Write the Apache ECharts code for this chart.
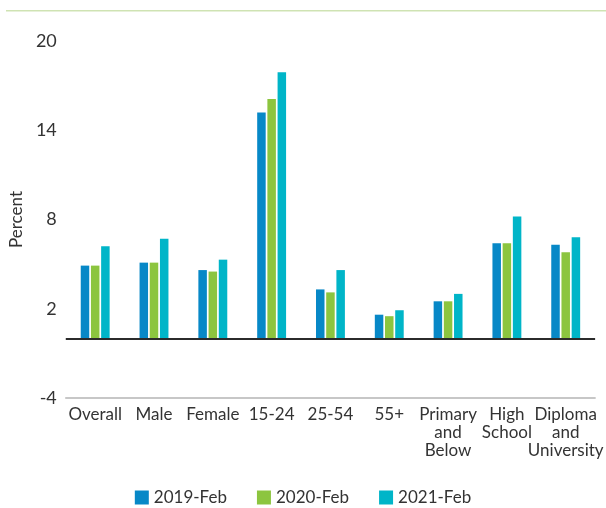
<!DOCTYPE html>
<html>
<head>
<meta charset="utf-8">
<script src="https://cdn.jsdelivr.net/npm/echarts@6/dist/echarts.min.js"></script>
<style>
  html, body { margin: 0; padding: 0; background: #fff; }
  #chart { width: 606px; height: 508px; }
</style>
</head>
<body>
<div id="chart"></div>
<script>
// categories and values
const categories = ['Overall', 'Male', 'Female', '15-24', '25-54', '55+',
  'Primary\nand\nBelow', 'High\nSchool', 'Diploma\nand\nUniversity'];
const seriesNames = ['2019-Feb', '2020-Feb', '2021-Feb'];
const feb2019 = [4.9, 5.1, 4.6, 15.2, 3.3, 1.6, 2.5, 6.4, 6.3];
const feb2020 = [4.9, 5.1, 4.5, 16.1, 3.1, 1.5, 2.5, 6.4, 5.8];
const feb2021 = [6.2, 6.7, 5.3, 17.9, 4.6, 1.9, 3.0, 8.2, 6.8];
const colors = ['#0788c7', '#8cc53f', '#00b5c8'];

const font = 'Lato, "Noto Sans", sans-serif';
const chart = echarts.init(document.getElementById('chart'));

const makeBar = (name, data, i) => ({
  name: name,
  type: 'bar',
  data: data,
  barWidth: 8.5,
  barGap: '20%',
  itemStyle: { color: colors[i] },
  // zero line
  markLine: i === 0 ? {
    silent: true,
    symbol: 'none',
    label: { show: false },
    lineStyle: { color: '#2b2b2b', width: 2, type: 'solid' },
    data: [{ yAxis: 0 }]
  } : undefined
});

chart.setOption({
  animation: false,
  textStyle: { fontFamily: font },
  graphic: [{
    type: 'rect',
    left: 6, top: 10,
    shape: { width: 600, height: 1.5 },
    style: { fill: '#cfe3b3' }
  }],
  grid: { left: 60, right: 6, top: 41, bottom: 110 },
  legend: {
    top: 489,
    left: 'center',
    padding: 0,
    icon: 'rect',
    itemWidth: 14,
    itemHeight: 14,
    itemGap: 30,
    textStyle: { color: '#333', fontSize: 17, fontFamily: font }
  },
  xAxis: {
    type: 'category',
    data: categories,
    axisLine: { onZero: false, lineStyle: { color: '#b5b5b5', width: 1.5 } },
    axisTick: { show: false },
    axisLabel: {
      interval: 0,
      color: '#333',
      fontSize: 17,
      lineHeight: 18,
      margin: 8,
      fontFamily: font
    }
  },
  yAxis: {
    type: 'value',
    min: -4,
    max: 20,
    interval: 6,
    name: 'Percent',
    nameLocation: 'middle',
    nameGap: 36,
    nameTextStyle: { color: '#333', fontSize: 17, fontFamily: font },
    axisLine: { show: false },
    axisTick: { show: false },
    splitLine: { show: false },
    axisLabel: { color: '#333', fontSize: 18, margin: 9, fontFamily: font }
  },
  series: [
    makeBar(seriesNames[0], feb2019, 0),
    makeBar(seriesNames[1], feb2020, 1),
    makeBar(seriesNames[2], feb2021, 2)
  ]
});
</script>
</body>
</html>
